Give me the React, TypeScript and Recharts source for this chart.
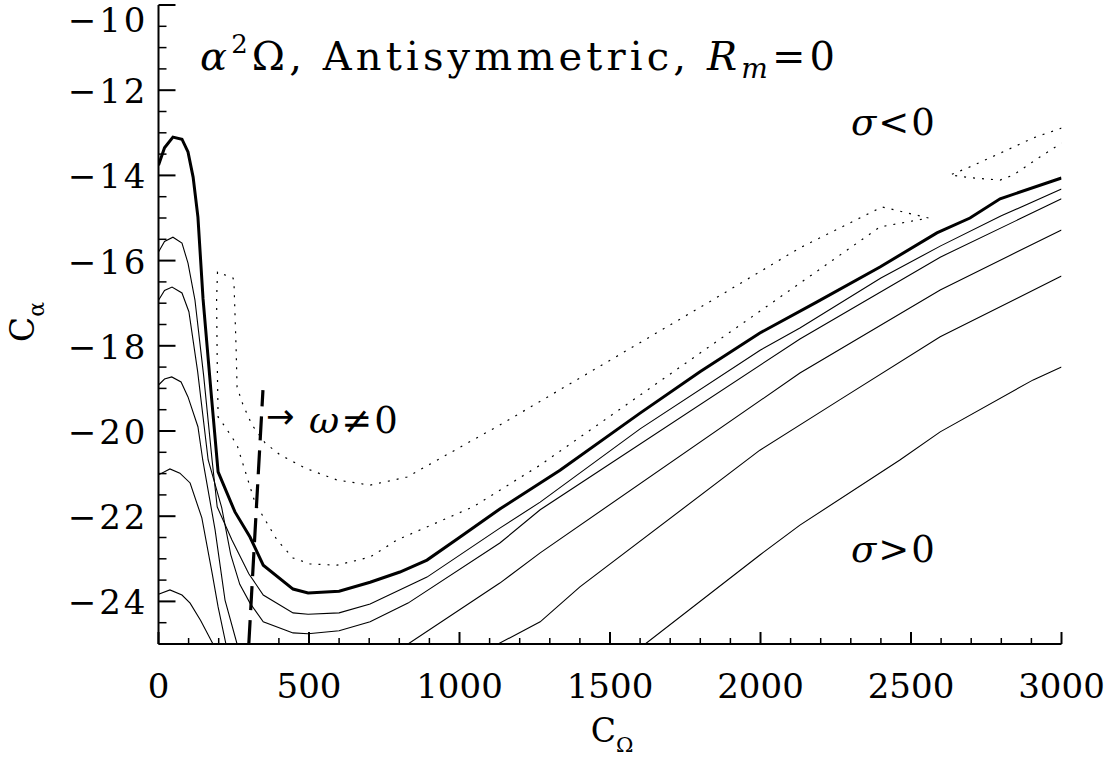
import React from 'react';
import { LineChart, Line, XAxis, YAxis } from 'recharts';

type P = { x: number; y: number };

// ---- tick values ----
const xTicks = [0, 100, 200, 300, 400, 500, 600, 700, 800, 900, 1000, 1100, 1200, 1300, 1400, 1500, 1600, 1700, 1800, 1900, 2000, 2100, 2200, 2300, 2400, 2500, 2600, 2700, 2800, 2900, 3000];
const xMajor = [0, 500, 1000, 1500, 2000, 2500, 3000];
const yTicks = [-25, -24.5, -24, -23.5, -23, -22.5, -22, -21.5, -21, -20.5, -20, -19.5, -19, -18.5, -18, -17.5, -17, -16.5, -16, -15.5, -15, -14.5, -14, -13.5, -13, -12.5, -12, -11.5, -11, -10.5, -10];
const yMajor = [-24, -22, -20, -18, -16, -14, -12, -10];

// ---- marginal curve (thick) ----
const marginal: P[] = [
  { x: 0, y: -13.76 }, { x: 20, y: -13.35 }, { x: 48, y: -13.1 }, { x: 78, y: -13.15 }, { x: 98, y: -13.45 },
  { x: 115, y: -14.04 }, { x: 131, y: -14.98 }, { x: 148, y: -16.9 }, { x: 174, y: -19.04 }, { x: 198, y: -20.96 },
  { x: 254, y: -21.9 }, { x: 304, y: -22.49 }, { x: 348, y: -23.15 }, { x: 447, y: -23.71 }, { x: 497, y: -23.8 },
  { x: 600, y: -23.76 }, { x: 703, y: -23.55 }, { x: 802, y: -23.31 }, { x: 892, y: -23.03 }, { x: 1002, y: -22.49 },
  { x: 1134, y: -21.83 }, { x: 1334, y: -20.92 }, { x: 1600, y: -19.58 }, { x: 1799, y: -18.61 }, { x: 1998, y: -17.7 },
  { x: 2188, y: -16.97 }, { x: 2397, y: -16.15 }, { x: 2586, y: -15.35 }, { x: 2696, y: -15.0 }, { x: 2796, y: -14.55 },
  { x: 3000, y: -14.06 },
];

// ---- thin contours ----
const contourA: P[] = [
  { x: 0, y: -15.8 }, { x: 20, y: -15.55 }, { x: 48, y: -15.45 }, { x: 78, y: -15.59 }, { x: 98, y: -16.06 },
  { x: 121, y: -16.92 }, { x: 150, y: -18.7 }, { x: 178, y: -20.68 }, { x: 195, y: -21.78 }, { x: 244, y: -22.56 },
  { x: 300, y: -23.35 }, { x: 348, y: -23.85 }, { x: 447, y: -24.27 }, { x: 497, y: -24.3 }, { x: 600, y: -24.27 },
  { x: 703, y: -24.06 }, { x: 892, y: -23.43 }, { x: 1134, y: -22.28 }, { x: 1268, y: -21.67 }, { x: 1600, y: -19.95 },
  { x: 2000, y: -18.1 }, { x: 2131, y: -17.58 }, { x: 2400, y: -16.41 }, { x: 2597, y: -15.66 }, { x: 2800, y: -14.95 },
  { x: 3000, y: -14.32 },
];
const contourB: P[] = [
  { x: 0, y: -16.93 }, { x: 20, y: -16.7 }, { x: 45, y: -16.62 }, { x: 78, y: -16.76 }, { x: 101, y: -17.2 },
  { x: 130, y: -18.6 }, { x: 165, y: -20.68 }, { x: 210, y: -21.8 }, { x: 240, y: -22.9 }, { x: 270, y: -23.6 },
  { x: 304, y: -24.04 }, { x: 348, y: -24.48 }, { x: 447, y: -24.74 }, { x: 497, y: -24.76 }, { x: 600, y: -24.69 },
  { x: 703, y: -24.48 }, { x: 829, y: -24.04 }, { x: 1134, y: -22.63 }, { x: 1268, y: -21.85 }, { x: 2131, y: -17.84 },
  { x: 2597, y: -15.92 }, { x: 3000, y: -14.55 },
];
const contourCLeft: P[] = [
  { x: 0, y: -18.92 }, { x: 20, y: -18.78 }, { x: 44, y: -18.73 }, { x: 75, y: -18.85 }, { x: 98, y: -19.2 },
  { x: 131, y: -19.9 }, { x: 147, y: -20.68 }, { x: 170, y: -21.6 }, { x: 188, y: -22.32 }, { x: 221, y: -23.97 },
  { x: 261, y: -25 },
];
const contourCRight: P[] = [
  { x: 829, y: -25 }, { x: 1134, y: -23.57 }, { x: 1268, y: -22.86 }, { x: 2131, y: -18.64 }, { x: 2597, y: -16.69 },
  { x: 3000, y: -15.28 },
];
const contourDLeft: P[] = [
  { x: 0, y: -21.03 }, { x: 38, y: -20.89 }, { x: 71, y: -20.99 }, { x: 105, y: -21.22 }, { x: 144, y: -22.04 },
  { x: 178, y: -23.33 }, { x: 198, y: -24.13 }, { x: 224, y: -25 },
];
const contourDRight: P[] = [
  { x: 1128, y: -25 }, { x: 1268, y: -24.48 }, { x: 1400, y: -23.66 }, { x: 1998, y: -20.45 }, { x: 2263, y: -19.27 },
  { x: 2597, y: -17.79 }, { x: 3000, y: -16.36 },
];
const contourELeft: P[] = [
  { x: 0, y: -23.83 }, { x: 38, y: -23.73 }, { x: 78, y: -23.85 }, { x: 105, y: -24.04 }, { x: 140, y: -24.45 },
  { x: 181, y: -25 },
];
const contourERight: P[] = [
  { x: 1617, y: -25 }, { x: 1998, y: -22.91 }, { x: 2131, y: -22.21 }, { x: 2463, y: -20.68 }, { x: 2597, y: -20.02 },
  { x: 2906, y: -18.8 }, { x: 3000, y: -18.5 },
];

// ---- dotted contours ----
const dottedLoop: P[] = [
  { x: 2558, y: -15.0 }, { x: 2404, y: -14.74 }, { x: 2131, y: -15.7 }, { x: 1842, y: -16.92 }, { x: 1134, y: -19.86 },
  { x: 1045, y: -20.21 }, { x: 826, y: -21.08 }, { x: 703, y: -21.27 }, { x: 593, y: -21.15 }, { x: 487, y: -20.87 },
  { x: 404, y: -20.56 }, { x: 354, y: -20.28 }, { x: 311, y: -19.86 }, { x: 281, y: -19.39 }, { x: 261, y: -18.97 },
  { x: 258, y: -18.1 }, { x: 251, y: -16.57 }, { x: 248, y: -16.41 }, { x: 196, y: -16.27 }, { x: 193, y: -16.93 },
  { x: 195, y: -18.33 }, { x: 198, y: -19.67 }, { x: 224, y: -19.93 }, { x: 261, y: -20.33 }, { x: 287, y: -20.92 },
  { x: 321, y: -21.69 }, { x: 394, y: -22.56 }, { x: 447, y: -22.98 }, { x: 503, y: -23.12 }, { x: 593, y: -23.15 },
  { x: 703, y: -22.96 }, { x: 792, y: -22.56 }, { x: 1045, y: -21.78 }, { x: 1268, y: -20.8 }, { x: 2131, y: -16.53 },
  { x: 2397, y: -15.21 }, { x: 2558, y: -15.0 },
];
const dottedCorner: P[] = [
  { x: 3000, y: -12.89 }, { x: 2906, y: -13.12 }, { x: 2796, y: -13.48 }, { x: 2686, y: -13.83 }, { x: 2630, y: -13.99 },
  { x: 2706, y: -14.06 }, { x: 2796, y: -14.11 }, { x: 2840, y: -13.99 }, { x: 2928, y: -13.57 }, { x: 3000, y: -13.24 },
];

// ---- dashed boundary (omega != 0) ----
const dashedBoundary: P[] = [{ x: 300, y: -25 }, { x: 347, y: -19.04 }];

const FONT = "'DejaVu Serif', 'Liberation Serif', serif";
const serif = { fontFamily: FONT };

const XTick = (props: any) => {
  const { x, y, payload, side } = props;
  const v = payload.value;
  const major = xMajor.includes(v);
  const dir = side === 'top' ? 1 : -1;
  return (
    <g>
      <line x1={x} y1={y} x2={x} y2={y + dir * (major ? 12 : 6)} stroke="#000" strokeWidth={major ? 2 : 1.5} />
      {side === 'bottom' && major && (
        <text x={x} y={y + 54} textAnchor="middle" style={serif} fontSize={34} fill="#000">
          {String(v)}
        </text>
      )}
    </g>
  );
};

const YTick = (props: any) => {
  const { x, y, payload, side } = props;
  const v = payload.value;
  const major = yMajor.includes(v);
  const dir = side === 'right' ? -1 : 1;
  return (
    <g>
      <line x1={x} y1={y} x2={x + dir * (major ? 17 : 8)} y2={y} stroke="#000" strokeWidth={major ? 2 : 1.5} />
      {side === 'left' && major && (
        <text x={x - 10} y={Math.max(y + 13, 32)} textAnchor="end" style={serif} fontSize={34} letterSpacing={3} fill="#000">
          {'\u2212' + String(Math.abs(v))}
        </text>
      )}
    </g>
  );
};

const axisLine = { stroke: '#000', strokeWidth: 2 };

export default function App() {
  const thin = { stroke: '#000', strokeWidth: 1.1, dot: false, activeDot: false, isAnimationActive: false, type: 'linear' as const, dataKey: 'y' };
  return (
    <div style={{ position: 'absolute', left: 0, top: 0, width: 1111, height: 757, background: '#fff' }}>
      <LineChart width={1111} height={757} margin={{ top: 5, right: 49.5, left: 0, bottom: 0 }}>
        <XAxis
          xAxisId="b" dataKey="x" type="number" domain={[0, 3000]} allowDataOverflow ticks={xTicks} interval={0}
          height={113} tickSize={0} tickMargin={0} axisLine={axisLine} tickLine={false}
          tick={(p: any) => <XTick {...p} side="bottom" />}
        />
        <XAxis
          xAxisId="t" orientation="top" dataKey="x" type="number" domain={[0, 3000]} allowDataOverflow ticks={xTicks} interval={0}
          height={0} tickSize={0} tickMargin={0} axisLine={axisLine} tickLine={false}
          tick={(p: any) => <XTick {...p} side="top" />}
        />
        <YAxis
          yAxisId="l" type="number" domain={[-25, -10]} allowDataOverflow ticks={yTicks} interval={0}
          width={158.5} tickSize={0} tickMargin={0} axisLine={axisLine} tickLine={false}
          tick={(p: any) => <YTick {...p} side="left" />}
        />
        <YAxis
          yAxisId="r" orientation="right" type="number" domain={[-25, -10]} allowDataOverflow ticks={yTicks} interval={0}
          width={0} tickSize={0} tickMargin={0} axisLine={axisLine} tickLine={false}
          tick={(p: any) => <YTick {...p} side="right" />}
        />
        <Line xAxisId="b" yAxisId="l" data={contourA} {...thin} />
        <Line xAxisId="b" yAxisId="l" data={contourB} {...thin} />
        <Line xAxisId="b" yAxisId="l" data={contourCLeft} {...thin} />
        <Line xAxisId="b" yAxisId="l" data={contourCRight} {...thin} />
        <Line xAxisId="b" yAxisId="l" data={contourDLeft} {...thin} />
        <Line xAxisId="b" yAxisId="l" data={contourDRight} {...thin} />
        <Line xAxisId="b" yAxisId="l" data={contourELeft} {...thin} />
        <Line xAxisId="b" yAxisId="l" data={contourERight} {...thin} />
        <Line xAxisId="b" yAxisId="l" data={dottedLoop} {...thin} strokeWidth={1.2} strokeDasharray="2 7" />
        <Line xAxisId="b" yAxisId="l" data={dottedCorner} {...thin} strokeWidth={1.2} strokeDasharray="2 7" />
        <Line xAxisId="b" yAxisId="l" data={marginal} {...thin} strokeWidth={3} />
        <Line xAxisId="b" yAxisId="l" data={dashedBoundary} {...thin} strokeWidth={3.2} strokeDasharray="24 10" />
      </LineChart>
      <svg width={1111} height={757} style={{ position: 'absolute', left: 0, top: 0, pointerEvents: 'none' }}>
        <g style={serif} fill="#000">
          <text x={200} y={70} fontSize={40} textLength={635} lengthAdjust="spacing">
            <tspan fontStyle="italic">α</tspan>
            <tspan fontSize={26} dy={-17}>2</tspan>
            <tspan dy={17}>Ω, Antisymmetric, </tspan>
            <tspan fontStyle="italic">R</tspan>
            <tspan fontStyle="italic" fontSize={28} dy={8}>m</tspan>
            <tspan dy={-8}>=0</tspan>
          </text>
          <text x={851} y={135} fontSize={37} letterSpacing={2}>
            <tspan fontStyle="italic">σ</tspan>{'<0'}
          </text>
          <text x={851} y={562} fontSize={37} letterSpacing={2}>
            <tspan fontStyle="italic">σ</tspan>{'>0'}
          </text>
          <text x={266} y={428} fontSize={34} style={{ fontFamily: "'DejaVu Sans', sans-serif" }}>→</text>
          <text x={309} y={433} fontSize={37} letterSpacing={2}>
            <tspan fontStyle="italic">ω</tspan>{'≠0'}
          </text>
          <text x={612} y={742} fontSize={33} textAnchor="middle">
            C<tspan fontSize={21} dy={10}>Ω</tspan>
          </text>
          <text transform="translate(34,322) rotate(-90)" fontSize={33} textAnchor="middle">
            C<tspan fontSize={22} dy={10}>α</tspan>
          </text>
        </g>
      </svg>
    </div>
  );
}
